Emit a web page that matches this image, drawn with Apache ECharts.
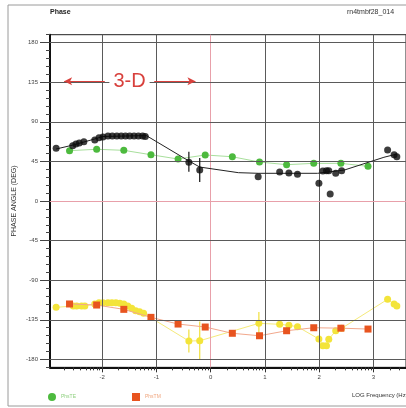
<!DOCTYPE html>
<html>
<head>
<meta charset="utf-8">
<script src="https://cdn.jsdelivr.net/npm/echarts@6/dist/echarts.min.js"></script>
<style>
  html, body { margin: 0; padding: 0; background: #fff; }
  #chart { width: 406px; height: 408px; }
</style>
</head>
<body>
<div id="chart"></div>
<script>
// Phase curves against log10 frequency
const freqMode = [-2.6, -2.1, -1.6, -1.1, -0.6, -0.1, 0.4, 0.9, 1.4, 1.9, 2.4, 2.9];
const phsTE = [57.2, 58.8, 57.6, 52.6, 47.7, 52.3, 50.3, 44.3, 41.3, 42.8, 42.8, 39.4];
const phsTM = [-117.0, -118.2, -123.1, -132.2, -139.8, -143.2, -150.3, -153.1, -147.4, -144.0, -144.5, -145.5];

const xyFreq = [-2.847, -2.542, -2.482, -2.421, -2.336, -2.135, -2.057, -1.984, -1.892, -1.812, -1.728, -1.648,
  -1.569, -1.491, -1.411, -1.332, -1.254, -1.204, -0.401, -0.201, 0.876, 1.272, 1.442, 1.600, 1.995, 2.068,
  2.135, 2.177, 2.203, 2.305, 2.414, 3.261, 3.381, 3.431];
const xyPhase = [59.9, 62.8, 64.8, 65.9, 67.4, 69.3, 71.9, 72.7, 73.9, 73.9, 73.9, 73.9,
  73.9, 73.9, 73.9, 73.9, 73.9, 73.3, 44.0, 35.2, 27.6, 33.0, 31.8, 30.3, 20.1, 34.1,
  34.4, 34.4, 8.0, 31.5, 34.4, 58.0, 52.6, 50.3];

const yxFreq = [-2.847, -2.531, -2.469, -2.378, -2.318, -2.135, -2.057, -1.984, -1.892, -1.819, -1.746, -1.673,
  -1.600, -1.527, -1.454, -1.381, -1.308, -1.235, -0.401, -0.201, 0.889, 1.272, 1.442, 1.600, 1.995, 2.068,
  2.135, 2.177, 2.305, 2.414, 3.261, 3.381, 3.431];
const yxPhase = [-120.8, -119.3, -119.3, -119.3, -119.3, -117.0, -115.6, -115.6, -115.6, -115.6, -115.6, -116.3,
  -117.0, -119.3, -121.9, -124.7, -125.8, -127.6, -159.1, -158.8, -139.0, -140.1, -141.3, -142.8, -156.8, -164.4,
  -164.4, -157.2, -147.4, -144.7, -111.7, -117.0, -119.3];

const curveFreq = [-2.847, -2.536, -2.135, -1.989, -1.186, -0.401, -0.201, 0.511, 0.876, 1.971, 2.464, 3.193, 3.431];
const curvePhase = [59.1, 63.6, 70.5, 73.3, 74.4, 45.5, 38.6, 32.2, 31.5, 31.5, 35.2, 49.7, 53.4];

const xyErrFreq = [-0.401, -0.201];
const xyErrLow = [33.3, 21.6];
const xyErrHigh = [56.0, 48.9];
const yxErrFreq = [-0.401, -0.201, 0.889];
const yxErrLow = [-172, -180, -152];
const yxErrHigh = [-146, -137, -126];

const yTickLabels = [-180, -135, -90, -45, 0, 45, 90, 135, 180];
const xTickLabels = [-2, -1, 0, 1, 2, 3];
const bandFreq = [-2.7, -1.95, -1.04, -0.28];
const bandPhase = 136;
const bandText = '3-D';

const X_MIN = -2.96, X_MAX = 3.6;
const Y_MIN = -189, Y_MAX = 189;

// log-spaced minor ticks inside each decade
const xMinorTicks = [];
for (let d = -3; d <= 3; d++) {
  for (let k = 1; k <= 9; k++) {
    const v = d + Math.log10(k);
    if (v >= X_MIN && v <= X_MAX) xMinorTicks.push(v);
  }
}

const zip = (a, b) => a.map((v, i) => [v, b[i]]);
const zip3 = (a, b, c) => a.map((v, i) => [v, b[i], c[i]]);

const gridRed = '#e8a0aa';
const gridDark = '#5a5a5a';

// grid lines at the labelled ticks; the zero lines are pink
const gridLines = [].concat(
  xTickLabels.map(v => [
    { coord: [v, Y_MIN], lineStyle: { color: v === 0 ? gridRed : gridDark } },
    { coord: [v, Y_MAX] }
  ]),
  yTickLabels.map(v => [
    { coord: [X_MIN, v], lineStyle: { color: v === 0 ? gridRed : gridDark } },
    { coord: [X_MAX, v] }
  ])
);

function errorBars(color) {
  return function (params, api) {
    const p1 = api.coord([api.value(0), api.value(1)]);
    const p2 = api.coord([api.value(0), api.value(2)]);
    return {
      type: 'line',
      shape: { x1: p1[0], y1: p1[1], x2: p2[0], y2: p2[1] },
      style: { stroke: color, lineWidth: 1.2 }
    };
  };
}

const chart = echarts.init(document.getElementById('chart'), null, { renderer: 'canvas' });

chart.setOption({
  animation: false,
  backgroundColor: '#ffffff',
  textStyle: { fontFamily: 'Liberation Sans, Arial, sans-serif' },
  grid: {
    left: 50, top: 34.7, width: (X_MAX - X_MIN) * 54.8, height: (Y_MAX - Y_MIN) * 0.88,
    show: true, borderColor: '#222', borderWidth: 1, backgroundColor: 'transparent'
  },
  legend: {
    left: 43, top: 388, itemWidth: 8, itemHeight: 8, itemGap: 56,
    textStyle: { fontSize: 5 },
    data: [
      { name: 'PhsTE', icon: 'circle', textStyle: { color: '#8fd07f' } },
      { name: 'PhsTM', icon: 'rect', textStyle: { color: '#f0a47c' } }
    ]
  },
  xAxis: [
    {
      type: 'value', min: X_MIN, max: X_MAX, position: 'bottom',
      axisLine: { show: true, onZero: false, lineStyle: { color: '#111', width: 2 } },
      axisTick: { show: true, length: 3, customValues: xMinorTicks, lineStyle: { color: '#333' } },
      axisLabel: { show: false },
      splitLine: { show: false }
    },
    {
      type: 'value', min: X_MIN, max: X_MAX, position: 'bottom',
      axisLine: { show: false, onZero: false },
      axisTick: { show: true, length: 5, customValues: xTickLabels, lineStyle: { color: '#333' } },
      axisLabel: { show: true, customValues: xTickLabels, fontSize: 6, color: '#444', margin: 7 },
      splitLine: { show: false }
    }
  ],
  yAxis: [
    {
      type: 'value', min: Y_MIN, max: Y_MAX, interval: 9, position: 'left',
      axisLine: { show: true, onZero: false, lineStyle: { color: '#111', width: 2 } },
      axisTick: { show: true, length: 4, lineStyle: { color: '#444' } },
      axisLabel: { show: false },
      splitLine: { show: false },
      name: 'PHASE ANGLE (DEG)', nameLocation: 'middle', nameGap: 32,
      nameTextStyle: { fontSize: 7, color: '#333' }
    },
    {
      type: 'value', min: Y_MIN, max: Y_MAX, position: 'left',
      axisLine: { show: false, onZero: false },
      axisTick: { show: true, length: 10, customValues: yTickLabels, lineStyle: { color: '#444' } },
      axisLabel: { show: true, customValues: yTickLabels, fontSize: 6, color: '#444', margin: 12 },
      splitLine: { show: false }
    }
  ],
  graphic: [
    { type: 'rect', z: -1, shape: { x: 8, y: 5, width: 430, height: 401 },
      style: { fill: 'none', stroke: '#9a9a9a', lineWidth: 1 } },
    { type: 'text', left: 50, top: 9, style: { text: 'Phase', font: 'bold 7px Liberation Sans, Arial', fill: '#222' } },
    { type: 'text', left: 347, top: 9, style: { text: 'rn4tmbf28_014', font: '7px Liberation Sans, Arial', fill: '#333' } },
    { type: 'text', left: 352, top: 392, style: { text: 'LOG Frequency (Hz)', font: '6px Liberation Sans, Arial', fill: '#333' } }
  ],
  series: [
    {
      name: 'grid', type: 'line', z: 1, data: [],
      markLine: {
        silent: true, symbol: ['none', 'none'],
        label: { show: false },
        lineStyle: { width: 1, type: 'solid' },
        data: gridLines
      }
    },
    {
      name: 'PhsYX', type: 'line', z: 3,
      data: zip(yxFreq, yxPhase),
      symbol: 'circle', symbolSize: 7,
      itemStyle: { color: '#f3e43a' },
      lineStyle: { color: '#f5ea7a', width: 1 }
    },
    {
      type: 'custom', z: 3, renderItem: errorBars('#f0df3c'),
      data: zip3(yxErrFreq, yxErrLow, yxErrHigh)
    },
    {
      name: 'PhsTM', type: 'line', z: 4,
      data: zip(freqMode, phsTM),
      symbol: 'rect', symbolSize: 7,
      itemStyle: { color: '#e8541f' },
      lineStyle: { color: '#f2a88c', width: 1 }
    },
    {
      name: 'PhsTE', type: 'line', z: 4,
      data: zip(freqMode, phsTE),
      symbol: 'circle', symbolSize: 7,
      itemStyle: { color: '#4dba3e' },
      lineStyle: { color: '#a8df9c', width: 1 }
    },
    {
      name: 'curve', type: 'line', z: 5,
      data: zip(curveFreq, curvePhase),
      symbol: 'none', smooth: false,
      lineStyle: { color: '#222', width: 1 }
    },
    {
      type: 'custom', z: 6, renderItem: errorBars('#111'),
      data: zip3(xyErrFreq, xyErrLow, xyErrHigh)
    },
    {
      name: 'PhsXY', type: 'scatter', z: 6,
      data: zip(xyFreq, xyPhase),
      symbol: 'circle', symbolSize: 7,
      itemStyle: { color: '#0d0d0d' },
      markLine: {
        silent: true, symbol: ['arrow', 'none'], symbolSize: [6, 8],
        lineStyle: { color: '#d8403c', width: 1.2, type: 'solid' },
        label: { show: false },
        data: [
          [{ coord: [bandFreq[0], bandPhase] }, { coord: [bandFreq[1], bandPhase] }],
          [{ coord: [bandFreq[3], bandPhase] }, { coord: [bandFreq[2], bandPhase] }]
        ]
      },
      markPoint: {
        silent: true, symbol: 'rect', symbolSize: 0,
        label: {
          show: true, formatter: bandText, fontSize: 20, color: '#d8403c',
          backgroundColor: '#ffffff', padding: [1, 4]
        },
        data: [{ coord: [(bandFreq[1] + bandFreq[2]) / 2, bandPhase] }]
      }
    }
  ]
});
</script>
</body>
</html>
